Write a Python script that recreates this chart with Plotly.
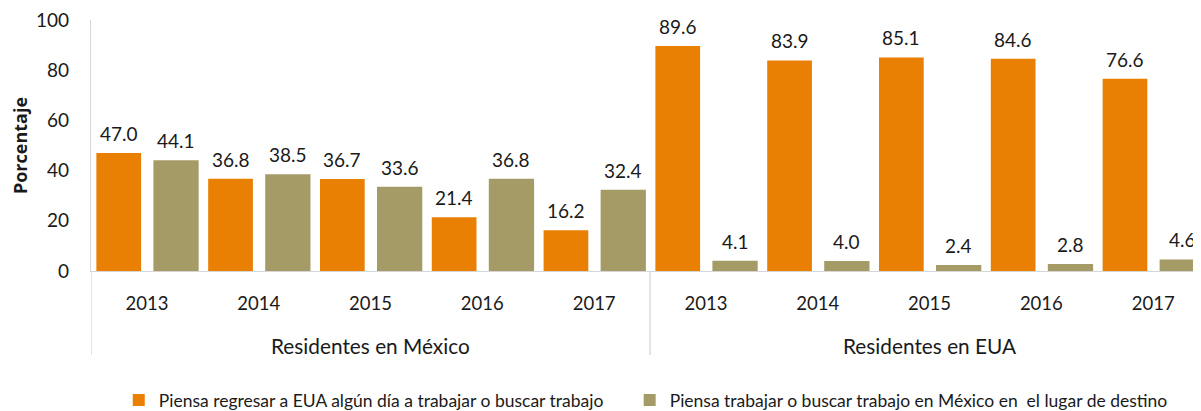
import plotly.graph_objects as go

group_names = ["Residentes en México", "Residentes en EUA"]
years = ["2013", "2014", "2015", "2016", "2017"] * 2
series_names = [
    "Piensa regresar a EUA algún día a trabajar o buscar trabajo",
    "Piensa trabajar o buscar trabajo en México en  el lugar de destino",
]
regresar = [47.0, 36.8, 36.7, 21.4, 16.2, 89.6, 83.9, 85.1, 84.6, 76.6]
trabajar = [44.1, 38.5, 33.6, 36.8, 32.4, 4.1, 4.0, 2.4, 2.8, 4.6]
colors = ["#E98003", "#A59B66"]
yticks = [0, 20, 40, 60, 80, 100]

FONT = "Lato, 'Open Sans', sans-serif"
TXT = "#1a1a1a"
LINE = "#D6D6D6"

xpos = list(range(len(years)))
specs = [(regresar, series_names[0], colors[0], -0.452, 0.40, "legend"),
         (trabajar, series_names[1], colors[1], 0.058, 0.405, "legend2")]

fig = go.Figure()
annotations = []
for vals, name, col, off, w, leg in specs:
    fig.add_trace(go.Bar(
        x=xpos, y=vals, name=name, legend=leg,
        marker=dict(color=col, line=dict(width=0)),
        width=w, offset=off,
    ))
    for xi, v in zip(xpos, vals):
        annotations.append(dict(
            x=xi + off + w / 2, y=v, xref="x", yref="y",
            text=f"{v:.1f}", showarrow=False, yanchor="bottom", yshift=6,
            font=dict(size=19, color=TXT, family=FONT),
        ))

# group labels under the year labels
n_per_group = len(years) // len(group_names)
for gi, g in enumerate(group_names):
    annotations.append(dict(
        x=gi * n_per_group + (n_per_group - 1) / 2, y=-0.295, xref="x", yref="paper",
        text=g, showarrow=False, yanchor="middle",
        font=dict(size=20.8, color=TXT, family=FONT),
    ))

# group dividers
shapes = []
for gi in range(len(group_names)):
    xd = gi * n_per_group - 0.5
    shapes.append(dict(type="line", xref="x", yref="paper", x0=xd, x1=xd,
                       y0=0, y1=-0.335, line=dict(color=LINE, width=1.3)))

legend_common = dict(orientation="h", xanchor="left", y=-0.514, yanchor="middle",
                     font=dict(size=17.5, family=FONT, color=TXT), itemwidth=30,
                     bgcolor="rgba(0,0,0,0)")

# page body adds an 8px margin, so the figure is 16px smaller and shifted
fig.update_layout(
    width=1193, height=403,
    margin=dict(l=83, r=0, t=12, b=140, autoexpand=False),
    paper_bgcolor="white", plot_bgcolor="white",
    barmode="overlay",
    font=dict(family=FONT, color=TXT),
    showlegend=True,
    legend=dict(x=0.025, **legend_common),
    legend2=dict(x=0.4853, **legend_common),
    annotations=annotations,
    shapes=shapes,
    xaxis=dict(
        range=[-0.5, 9.428], tickmode="array", tickvals=xpos, ticktext=years,
        showline=True, linecolor=LINE, linewidth=1.3, automargin=False,
        showgrid=False, zeroline=False, ticks="", ticklabelstandoff=16,
        tickfont=dict(size=18.5, family=FONT, color=TXT),
    ),
    yaxis=dict(
        range=[0, 100], tickvals=yticks, showgrid=False, zeroline=False,
        showline=True, linecolor=LINE, linewidth=1.3, automargin=False,
        tickfont=dict(size=19, family=FONT, color=TXT), ticklabelstandoff=17,
        ticklabeloverflow="allow",
        title=dict(text="<b>Porcentaje</b>",
                   font=dict(size=18, family="'Open Sans', sans-serif", color=TXT),
                   standoff=6),
    ),
)

fig.write_html("out.html")
